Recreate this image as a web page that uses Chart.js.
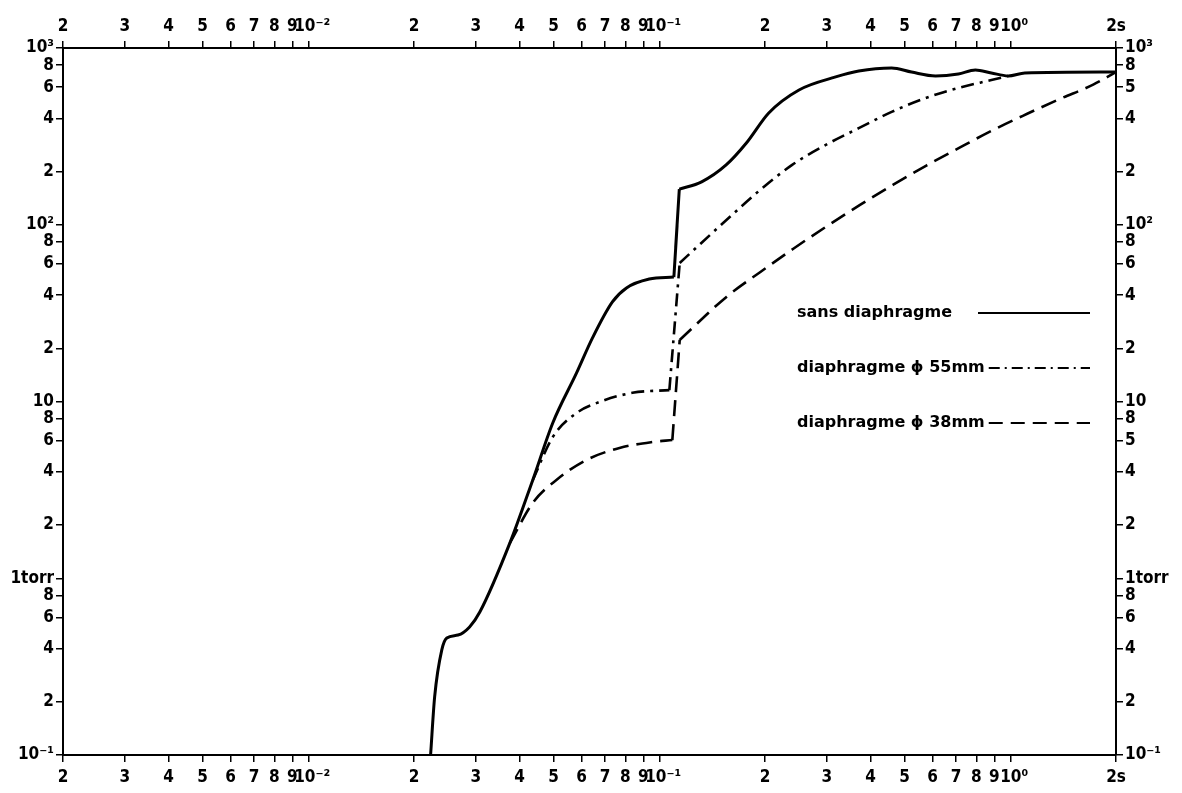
<!DOCTYPE html>
<html>
<head>
<meta charset="utf-8">
<script src="https://cdn.jsdelivr.net/npm/chart.js@4.4.1/dist/chart.umd.min.js"></script>
<style>
  html, body { margin: 0; padding: 0; background: #fff; }
  #wrap { width: 1182px; height: 793px; position: relative; }
</style>
</head>
<body>
<div id="wrap"><canvas id="myChart"></canvas></div>
<script>
// time in s (log), pressure in torr (log)
const solidX = [0.0223, 0.0229, 0.0240, 0.0248, 0.0267, 0.0288, 0.0308, 0.0375, 0.0436, 0.0497, 0.0581, 0.0645, 0.0735, 0.0806, 0.0936, 0.110, 0.114, 0.132, 0.155, 0.177, 0.205, 0.250, 0.318, 0.370, 0.459, 0.523, 0.612, 0.711, 0.795, 0.883, 0.986, 1.10, 2.0]
const solidY = [0.1, 0.213, 0.393, 0.459, 0.477, 0.530, 0.644, 1.58, 3.60, 7.56, 14.5, 22.9, 36.6, 43.9, 49.3, 50.6, 159, 175, 218, 290, 429, 579, 686, 741, 771, 731, 695, 713, 751, 722, 695, 722, 731]

const dia55X = [0.0436, 0.0497, 0.0581, 0.0675, 0.0838, 0.1068, 0.1143, 0.130, 0.155, 0.192, 0.239, 0.298, 0.370, 0.459, 0.573, 0.711, 0.883, 0.986]
const dia55Y = [3.60, 6.30, 8.61, 9.93, 11.2, 11.6, 60.8, 77.0, 106, 155, 218, 283, 352, 435, 521, 594, 659, 695]

const dia38X = [0.0375, 0.0436, 0.0509, 0.0620, 0.0770, 0.0955, 0.1089, 0.1143, 0.1556, 0.1936, 0.2408, 0.2998, 0.373, 0.464, 0.578, 0.719, 0.894, 1.113, 1.384, 1.722, 2.0]
const dia38Y = [1.58, 2.67, 3.60, 4.67, 5.46, 5.90, 6.05, 22.3, 39.2, 53.9, 73.2, 98.0, 129.4, 168.6, 217, 274, 344, 423, 515, 620, 731]

// index of the last point before the sudden rise near 0.11 s
const jumpAt = [15, 5, 6]

const xTicks = [0.002, 0.003, 0.004, 0.005, 0.006, 0.007, 0.008, 0.009, 0.01,
  0.02, 0.03, 0.04, 0.05, 0.06, 0.07, 0.08, 0.09, 0.1,
  0.2, 0.3, 0.4, 0.5, 0.6, 0.7, 0.8, 0.9, 1, 2]
const xLabels = ['2', '3', '4', '5', '6', '7', '8', '9', '10⁻²',
  '2', '3', '4', '5', '6', '7', '8', '9', '10⁻¹',
  '2', '3', '4', '5', '6', '7', '8', '9', '10⁰', '2s']

const yTicks = [0.1, 0.2, 0.4, 0.6, 0.8, 1, 2, 4, 6, 8, 10, 20, 40, 60, 80, 100, 200, 400, 600, 800, 1000]
const yLabelsLeft = ['10⁻¹', '2', '4', '6', '8', '1torr', '2', '4', '6', '8', '10', '2', '4', '6', '8', '10²', '2', '4', '6', '8', '10³']
const yLabelsRight = ['10⁻¹', '2', '4', '6', '8', '1torr', '2', '4', '5', '8', '10', '2', '4', '6', '8', '10²', '2', '4', '5', '8', '10³']

const legendLabels = ['sans diaphragme', 'diaphragme ϕ 55mm', 'diaphragme ϕ 38mm']

const FONT = '"DejaVu Sans Condensed", "DejaVu Sans", sans-serif'
Chart.defaults.font.family = FONT
Chart.defaults.font.weight = 'bold'
Chart.defaults.font.size = 17
Chart.defaults.color = '#000'

const pts = (xs, ys) => xs.map((x, i) => ({ x: x, y: ys[i] }))

// "10" sits on the tick, exponent hangs to the right
const xLabel = s => s.startsWith('10') ? '\u2002' + s : s

function logAxis(position, min, max, values, labels, size, pad) {
  return {
    type: 'logarithmic',
    position: position,
    min: min,
    max: max,
    afterBuildTicks: s => { s.ticks = values.map(v => ({ value: v })) },
    afterFit: s => { if (s.isHorizontal()) s.height = size; else s.width = size },
    ticks: {
      autoSkip: false, maxRotation: 0, minRotation: 0, padding: pad, color: '#000',
      callback: (v, i) => labels[i]
    },
    grid: { drawOnChartArea: false, drawTicks: true, tickLength: 7, color: '#000', lineWidth: 1.5 },
    border: { color: '#000', width: 2 }
  }
}

// split each curve: lower part, the near vertical rise, upper part
function curveSets(xs, ys, j, style) {
  const p = pts(xs, ys)
  const base = Object.assign({ borderColor: '#000', pointRadius: 0 }, style)
  return [
    Object.assign({}, base, { data: p.slice(0, j + 1), cubicInterpolationMode: 'monotone' }),
    Object.assign({}, base, { data: p.slice(j, j + 2), tension: 0 }),
    Object.assign({}, base, { data: p.slice(j + 1), cubicInterpolationMode: 'monotone' })
  ]
}

// legend drawn inside the plot, like the original
const legendBox = {
  id: 'legendBox',
  afterDraw(chart) {
    const ctx = chart.ctx
    const rows = [
      { y: 313, x0: 978, dash: [] },
      { y: 368, x0: 986, dash: [11, 5, 2, 5] },
      { y: 423, x0: 986, dash: [14, 8] }
    ]
    ctx.save()
    ctx.font = 'bold 16px "DejaVu Sans", sans-serif'
    ctx.fillStyle = '#000'
    ctx.textBaseline = 'middle'
    rows.forEach((r, i) => {
      ctx.fillText(legendLabels[i], 797, r.y)
      const end = 797 + ctx.measureText(legendLabels[i]).width + 4
      ctx.beginPath()
      ctx.setLineDash(r.dash)
      ctx.lineWidth = 2.2
      ctx.strokeStyle = '#000'
      ctx.moveTo(Math.max(r.x0, end), r.y)
      ctx.lineTo(1090, r.y)
      ctx.stroke()
    })
    ctx.restore()
  }
}

const ctx = document.getElementById('myChart').getContext('2d')
const myChart = new Chart(ctx, {
  type: 'line',
  data: {
    datasets: [].concat(
      curveSets(solidX, solidY, jumpAt[0], { label: legendLabels[0], borderWidth: 3 }),
      curveSets(dia55X, dia55Y, jumpAt[1], { label: legendLabels[1], borderWidth: 2.6, borderDash: [13, 6, 3, 6] }),
      curveSets(dia38X, dia38Y, jumpAt[2], { label: legendLabels[2], borderWidth: 2.6, borderDash: [16, 8] })
    )
  },
  options: {
    responsive: true,
    maintainAspectRatio: false,
    animation: false,
    layout: { padding: 0 },
    plugins: { legend: { display: false }, tooltip: { enabled: false } },
    scales: {
      x: logAxis('bottom', 0.002, 2, xTicks, xTicks.map((v, i) => xLabel(xLabels[i])), 38, 5),
      x2: logAxis('top', 0.002, 2, xTicks, xTicks.map((v, i) => xLabel(xLabels[i])), 48, 4),
      y: logAxis('left', 0.1, 1000, yTicks, yLabelsLeft, 63, 2),
      y2: logAxis('right', 0.1, 1000, yTicks, yLabelsRight, 66, 2)
    }
  },
  plugins: [legendBox]
})
</script>
</body>
</html>
